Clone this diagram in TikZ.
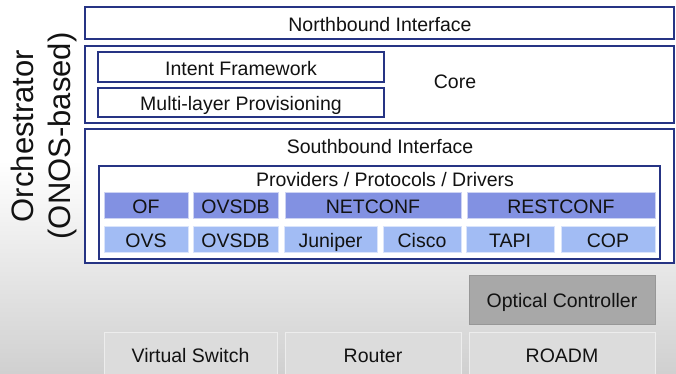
\documentclass[tikz,border=0pt]{standalone}
\usepackage{fontspec}
\setmainfont{Liberation Sans}
\definecolor{navy}{RGB}{38,52,132}
\definecolor{protoblue}{RGB}{130,145,226}
\definecolor{devblue}{RGB}{162,188,244}
\definecolor{bgbottom}{RGB}{208,208,208}
\definecolor{devgray}{RGB}{220,220,220}
\definecolor{ctrlgray}{RGB}{168,168,168}
\definecolor{ink}{RGB}{18,18,18}
\tikzset{
  every node/.style={text=ink, font=\fontsize{19.5}{22}\selectfont, inner sep=0pt,
    text height=16pt, text depth=0pt},
  layerbox/.style={draw=navy, line width=2pt, fill=white},
  subbox/.style={draw=navy, line width=1.2pt, fill=white},
  protocell/.style={fill=protoblue, draw=white!60!protoblue, line width=0.8pt},
  devcell/.style={fill=devblue, draw=white!60!devblue, line width=0.8pt},
  ctrlbox/.style={fill=ctrlgray, draw=ctrlgray!90!black, line width=0.5pt},
  devbox/.style={fill=devgray, draw=white!50!devgray, line width=0.6pt},
}
\begin{document}
\begin{tikzpicture}[x=1pt, y=-1pt]
\useasboundingbox (0,0) rectangle (676,373);
\clip (0,0) rectangle (676,373);
% background
\fill[white] (0,0) rectangle (676,160);
\shade[top color=white, bottom color=bgbottom] (0,160) rectangle (676,373);

% orchestrator label
\node[rotate=90, align=center, text height={}, text depth={},
      font=\fontsize{31}{37}\selectfont] (orch) at (44,136) {Orchestrator\\(ONOS-based)};

% layers
\node[layerbox, minimum width=589, minimum height=32] (nb) at (379.5,23) {};
\node (nbt) at (380,23) {Northbound Interface};

\node[layerbox, minimum width=589, minimum height=77] (core) at (379.5,84.5) {};
\node (coret) at (455,80) {Core};
\node[subbox, minimum width=286, minimum height=30] (intent) at (241,67) {Intent Framework};
\node[subbox, minimum width=286, minimum height=29] (mlp) at (241,102.5) {Multi-layer Provisioning};

\node[layerbox, minimum width=589, minimum height=134] (sb) at (379.5,196) {};
\node (sbt) at (380,145) {Southbound Interface};
\node[subbox, minimum width=561, minimum height=93] (prov) at (379.5,212.5) {};
\node (provt) at (385,178) {Providers / Protocols / Drivers};

% protocol row
\node[protocell, minimum width=84, minimum height=26] (of) at (146,205) {OF};
\node[protocell, minimum width=85, minimum height=26] (ovsdbp) at (235.5,205) {OVSDB};
\node[protocell, minimum width=176, minimum height=26] (netconf) at (373,205) {NETCONF};
\node[protocell, minimum width=188, minimum height=26] (restconf) at (561,205) {RESTCONF};

% driver row
\node[devcell, minimum width=84, minimum height=26] (ovs) at (146,239) {OVS};
\node[devcell, minimum width=85, minimum height=26] (ovsdbd) at (235.5,239) {OVSDB};
\node[devcell, minimum width=93, minimum height=26] (juniper) at (330.5,239) {Juniper};
\node[devcell, minimum width=78, minimum height=26] (cisco) at (422,239) {Cisco};
\node[devcell, minimum width=88, minimum height=26] (tapi) at (510,239) {TAPI};
\node[devcell, minimum width=94, minimum height=26] (cop) at (608,239) {COP};

% controller and devices
\node[ctrlbox, minimum width=186, minimum height=49] (optctl) at (562,299.5) {Optical Controller};
\node[devbox, minimum width=173, minimum height=44] (vswitch) at (190.5,354) {Virtual Switch};
\node[devbox, minimum width=176, minimum height=44] (router) at (373,354) {Router};
\node[devbox, minimum width=186, minimum height=44] (roadm) at (562,354) {ROADM};
\end{tikzpicture}
\end{document}
